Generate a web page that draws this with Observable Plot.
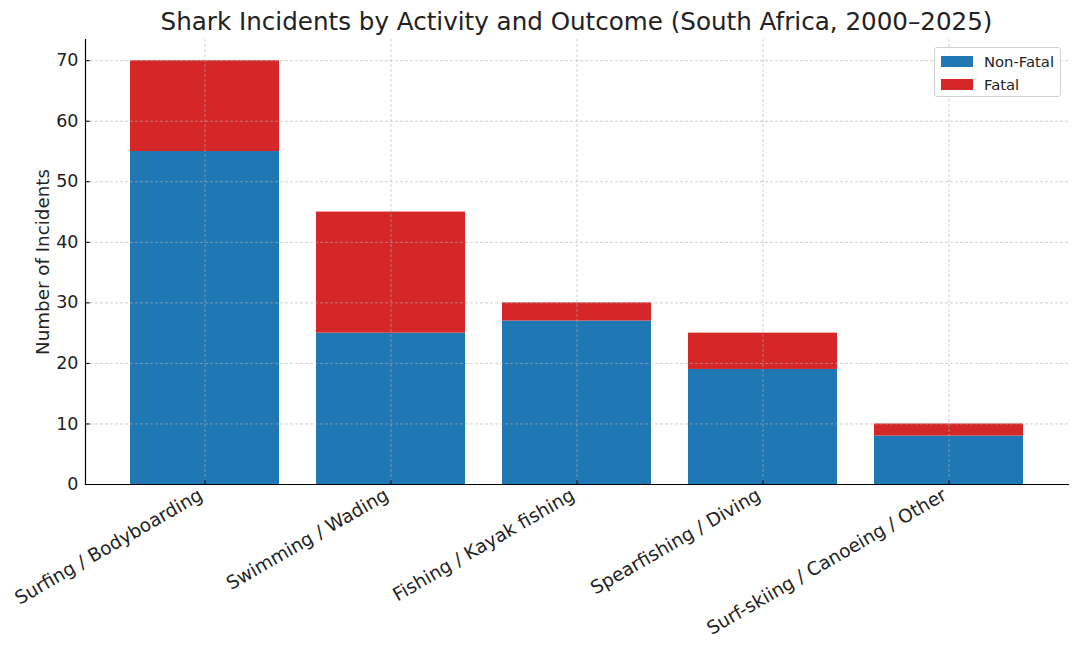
<!DOCTYPE html>
<html>
<head>
<meta charset="utf-8">
<script src="https://cdn.jsdelivr.net/npm/d3@7"></script>
<script src="https://cdn.jsdelivr.net/npm/@observablehq/plot@0.6"></script>
<style>
  body { margin: 0; background: #fff; font-family: "DejaVu Sans", sans-serif; }
  #wrap { position: relative; width: 1080px; height: 652px; }
  #title { margin-left: 85px; width: 983px; height: 39px; line-height: 44px; text-align: center; font-size: 24.6px; color: #222; white-space: nowrap; }
  #legend { position: absolute; left: 934px; top: 47px; width: 125px; height: 48px; border: 1px solid #d0d0d0; border-radius: 3px; background: rgba(255,255,255,0.8); font-size: 14.8px; color: #222; }
  .item { position: absolute; left: 6px; height: 20px; display: flex; align-items: center; }
  .sw { width: 32px; height: 11px; margin-right: 11px; }
</style>
</head>
<body>
<div id="wrap">
  <div id="title">Shark Incidents by Activity and Outcome (South Africa, 2000–2025)</div>
  <div id="chart"></div>
  <div id="legend"></div>
</div>
<script>
const activities = ["Surfing / Bodyboarding", "Swimming / Wading", "Fishing / Kayak fishing", "Spearfishing / Diving", "Surf-skiing / Canoeing / Other"];
const nonFatal = [55, 25, 27, 19, 8];
const fatal = [15, 20, 3, 6, 2];
const outcomes = ["Non-Fatal", "Fatal"];
const colors = ["#1f77b4", "#d62728"];
const yTicks = [0, 10, 20, 30, 40, 50, 60, 70];

const rows = [];
activities.forEach((a, i) => {
  rows.push({activity: a, outcome: "Non-Fatal", value: nonFatal[i]});
  rows.push({activity: a, outcome: "Fatal", value: fatal[i]});
});

const tickShape = {draw(context, l) { context.moveTo(0, 0); context.lineTo(0, -l); }};

const plot = Plot.plot({
  width: 1080,
  height: 613,
  marginLeft: 85,
  marginRight: 12,
  marginTop: 0,
  marginBottom: 168,
  style: {fontFamily: "DejaVu Sans, sans-serif", fontSize: "16px", color: "#222", background: "white"},
  x: {domain: activities, paddingInner: 0.2, paddingOuter: 0.24, label: null},
  y: {domain: [0, 73.5], label: null},
  color: {domain: outcomes, range: colors},
  marks: [
    Plot.barY(rows, Plot.stackY({x: "activity", y: "value", fill: "outcome", order: outcomes})),
    Plot.gridY(yTicks, {stroke: "#b0b0b0", strokeOpacity: 0.75, strokeWidth: 0.8, strokeDasharray: "3,2"}),
    Plot.gridX(activities, {stroke: "#b0b0b0", strokeOpacity: 0.75, strokeWidth: 0.8, strokeDasharray: "3,2"}),
    Plot.axisY(yTicks, {tickSize: 0, tickPadding: 7, fontSize: 17.5, label: null}),
    Plot.axisY({tickSize: 0, ticks: [], fontSize: 18.3, label: "Number of Incidents", labelAnchor: "center", labelArrow: "none", labelOffset: 50}),
    Plot.axisX({tickSize: 0, tickPadding: 9, tickRotate: -30, fontSize: 18.5, dx: -4, label: null}),
    Plot.vector(yTicks, {y: d => d, frameAnchor: "left", rotate: 90, length: 4, anchor: "start", shape: tickShape, stroke: "#000", strokeWidth: 1}),
    Plot.vector(activities, {x: d => d, frameAnchor: "bottom", rotate: 0, length: 4, anchor: "start", shape: tickShape, stroke: "#000", strokeWidth: 1}),
    Plot.frame({anchor: "left", stroke: "#000", strokeWidth: 1.2}),
    Plot.frame({anchor: "bottom", stroke: "#000", strokeWidth: 1.2})
  ]
});
document.getElementById("chart").appendChild(plot);

const legend = document.getElementById("legend");
outcomes.forEach((o, i) => {
  const it = document.createElement("div");
  it.className = "item";
  it.style.top = (3 + i * 23) + "px";
  const sw = document.createElement("div");
  sw.className = "sw";
  sw.style.background = colors[i];
  it.appendChild(sw);
  const t = document.createElement("span");
  t.textContent = o;
  it.appendChild(t);
  legend.appendChild(it);
});
</script>
</body>
</html>
